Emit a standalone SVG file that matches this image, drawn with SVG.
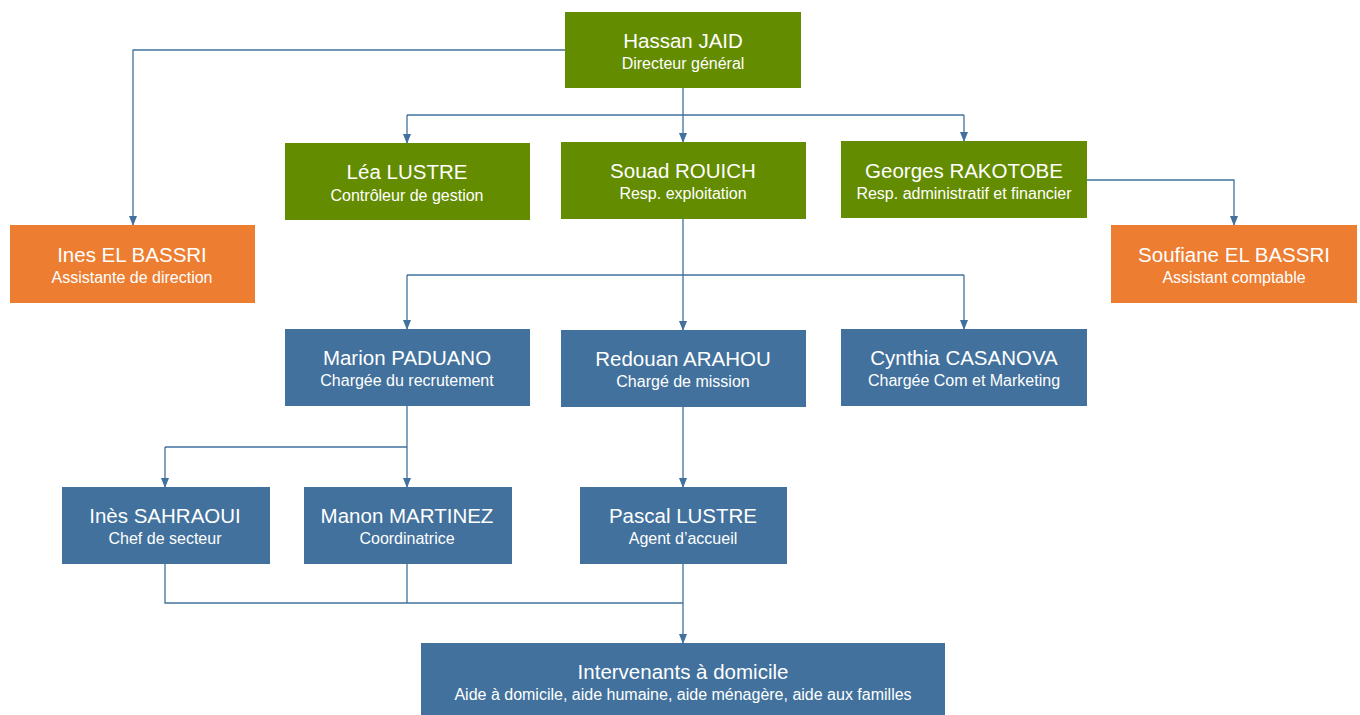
<svg xmlns="http://www.w3.org/2000/svg" width="1360" height="715" viewBox="0 0 1360 715">
<defs>
<marker id="ah" markerWidth="10" markerHeight="8" refX="9" refY="4" orient="auto" markerUnits="userSpaceOnUse">
<path d="M0,0 L10,4 L0,8 Z" fill="#41719C"/>
</marker>
<style>
.g{fill:#638C00}
.o{fill:#ED7D31}
.b{fill:#41719C}
.n{font-family:"Liberation Sans",Arial,sans-serif;font-size:20.5px;fill:#fff;text-anchor:middle}
.s{font-family:"Liberation Sans",Arial,sans-serif;font-size:16px;fill:#fff;text-anchor:middle}
.c{fill:none;stroke:#41719C;stroke-width:1.3}
.a{marker-end:url(#ah)}
</style>
</defs>
<rect width="1360" height="715" fill="#fff"/>
<g id="connectors">
<path class="c a" d="M565,50 H133 V225"/>
<path class="c" d="M683,88 V115"/>
<path class="c" d="M407,115 H964"/>
<path class="c a" d="M407,115 V143"/>
<path class="c a" d="M683,115 V142"/>
<path class="c a" d="M964,115 V141"/>
<path class="c a" d="M1087,180 H1234 V225"/>
<path class="c" d="M683,219 V275"/>
<path class="c" d="M407,275 H964"/>
<path class="c a" d="M407,275 V329"/>
<path class="c a" d="M683,275 V330"/>
<path class="c a" d="M964,275 V329"/>
<path class="c" d="M407,406 V447"/>
<path class="c" d="M165,447 H407"/>
<path class="c a" d="M165,447 V487"/>
<path class="c a" d="M407,447 V487"/>
<path class="c a" d="M683,407 V487"/>
<path class="c" d="M165,564 V603 H683"/>
<path class="c" d="M407,564 V603"/>
<path class="c a" d="M683,564 V643"/>
</g>
<g id="hassan"><rect class="g" x="565" y="12" width="236" height="76"/><text class="n" x="683" y="48">Hassan JAID</text><text class="s" x="683" y="69">Directeur général</text></g>
<g id="ines-el-bassri"><rect class="o" x="10" y="225" width="245" height="78"/><text class="n" x="132" y="262">Ines EL BASSRI</text><text class="s" x="132" y="283">Assistante de direction</text></g>
<g id="lea"><rect class="g" x="285" y="143" width="245" height="77"/><text class="n" x="407" y="179">Léa LUSTRE</text><text class="s" x="407" y="201">Contrôleur de gestion</text></g>
<g id="souad"><rect class="g" x="561" y="142" width="245" height="77"/><text class="n" x="683" y="178">Souad ROUICH</text><text class="s" x="683" y="199">Resp. exploitation</text></g>
<g id="georges"><rect class="g" x="841" y="141" width="246" height="77"/><text class="n" x="964" y="178">Georges RAKOTOBE</text><text class="s" x="964" y="199">Resp. administratif et financier</text></g>
<g id="soufiane"><rect class="o" x="1111" y="225" width="246" height="78"/><text class="n" x="1234" y="262">Soufiane EL BASSRI</text><text class="s" x="1234" y="283">Assistant comptable</text></g>
<g id="marion"><rect class="b" x="285" y="329" width="245" height="77"/><text class="n" x="407" y="365">Marion PADUANO</text><text class="s" x="407" y="386">Chargée du recrutement</text></g>
<g id="redouan"><rect class="b" x="561" y="330" width="245" height="77"/><text class="n" x="683" y="366">Redouan ARAHOU</text><text class="s" x="683" y="387">Chargé de mission</text></g>
<g id="cynthia"><rect class="b" x="841" y="329" width="246" height="77"/><text class="n" x="964" y="365">Cynthia CASANOVA</text><text class="s" x="964" y="386">Chargée Com et Marketing</text></g>
<g id="ines-sahraoui"><rect class="b" x="62" y="487" width="208" height="77"/><text class="n" x="165" y="523">Inès SAHRAOUI</text><text class="s" x="165" y="544">Chef de secteur</text></g>
<g id="manon"><rect class="b" x="304" y="487" width="208" height="77"/><text class="n" x="407" y="523">Manon MARTINEZ</text><text class="s" x="407" y="544">Coordinatrice</text></g>
<g id="pascal"><rect class="b" x="580" y="487" width="207" height="77"/><text class="n" x="683" y="523">Pascal LUSTRE</text><text class="s" x="683" y="544">Agent d’accueil</text></g>
<g id="intervenants"><rect class="b" x="421" y="643" width="524" height="72"/><text class="n" x="683" y="679">Intervenants à domicile</text><text class="s" x="683" y="700">Aide à domicile, aide humaine, aide ménagère, aide aux familles</text></g>
</svg>
